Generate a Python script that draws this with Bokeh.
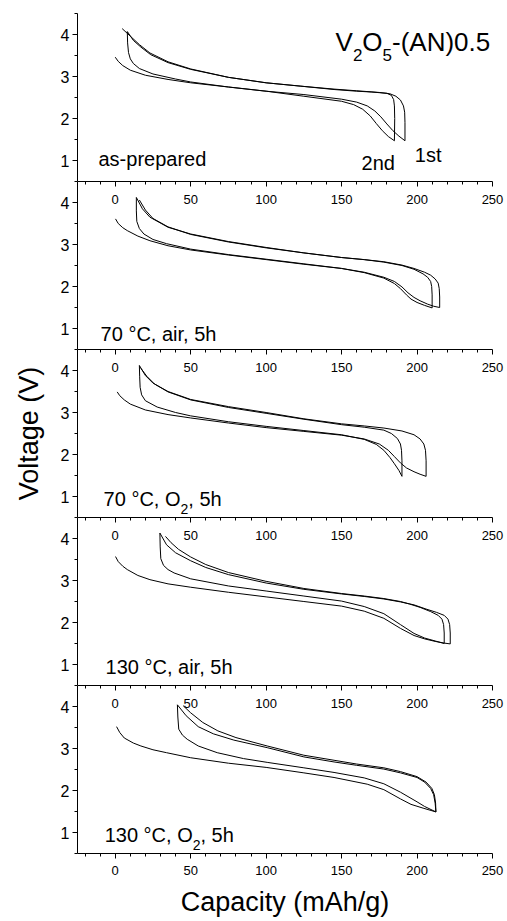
from bokeh.plotting import figure
from bokeh.models import LinearAxis, FixedTicker, Label, Range1d
from bokeh.layouts import column
from bokeh.embed import file_html
from bokeh.resources import INLINE

FONT = "Liberation Sans"

# ---------------- axes ----------------
X_TICKS = [0, 50, 100, 150, 200, 250]
X_MINOR = [-20, -10, 10, 20, 30, 40, 60, 70, 80, 90, 110, 120, 130, 140,
           160, 170, 180, 190, 210, 220, 230, 240]
Y_TICKS = [1, 2, 3, 4]
Y_MINOR = [0.5, 1.5, 2.5, 3.5, 4.5]
X_RANGE = (-25, 250)
Y_RANGE = (0.5, 4.5)
X_LABEL = "Capacity (mAh/g)"
Y_LABEL = "Voltage (V)"

# ---------------- data: (capacity mAh/g, voltage V) ----------------
# panel 1: as-prepared
P1_D1 = [(0, 3.46), (2, 3.36), (5, 3.26), (10, 3.15), (20, 3.03), (35, 2.93), (50, 2.85),
         (75, 2.75), (100, 2.65), (125, 2.57), (150, 2.46), (160, 2.39), (167, 2.3),
         (172, 2.18), (176, 2.04), (180, 1.87), (184, 1.71), (188, 1.58), (192, 1.47)]
P1_D2 = [(8, 4.07), (8.2, 3.8), (8.8, 3.57), (10, 3.42), (12, 3.31), (16, 3.19), (25, 3.06),
         (40, 2.94), (50, 2.87), (75, 2.75), (100, 2.65), (125, 2.53), (150, 2.41),
         (158, 2.33), (164, 2.22), (169, 2.06), (173, 1.88), (177, 1.71), (181, 1.57), (185, 1.47)]
P1_C1 = [(192, 1.47), (192, 1.9), (191.8, 2.15), (191, 2.3), (189, 2.44), (186, 2.53),
         (182, 2.59), (175, 2.62), (160, 2.66), (145, 2.7), (123, 2.77), (100, 2.85),
         (75, 2.98), (50, 3.17), (35, 3.33), (23.5, 3.52), (17, 3.7), (12, 3.86), (8, 4.07)]
P1_C2 = [(185, 1.47), (185.2, 2.0), (185, 2.3), (184.5, 2.45), (183, 2.55), (180, 2.6),
         (170, 2.63), (160, 2.65), (145, 2.69), (123, 2.77), (100, 2.85), (75, 2.98),
         (50, 3.18), (35, 3.35), (23, 3.56), (16, 3.76), (10, 3.96), (4.6, 4.14)]

# panel 2: 70 C, air, 5h
P2_D1 = [(0.2, 3.61), (2, 3.5), (5, 3.4), (8, 3.33), (15, 3.2), (23, 3.09), (35, 2.97),
         (50, 2.87), (75, 2.75), (100, 2.64), (125, 2.53), (150, 2.43), (165, 2.34),
         (178, 2.22), (185, 2.12), (190, 1.99), (194, 1.85), (198, 1.74), (202, 1.66),
         (207, 1.58), (211, 1.53), (215, 1.5)]
P2_D2 = [(14, 4.12), (14, 3.8), (14.3, 3.55), (16, 3.38), (19, 3.25), (25, 3.12), (34, 3.02),
         (50, 2.89), (75, 2.76), (100, 2.65), (125, 2.54), (150, 2.43), (165, 2.33),
         (178, 2.2), (185, 2.07), (189, 1.95), (193, 1.8), (196, 1.7), (200, 1.62),
         (205, 1.55), (210, 1.49)]
P2_C1 = [(215, 1.5), (215, 1.75), (214.7, 1.95), (214, 2.08), (212, 2.18), (209, 2.27),
         (205, 2.34), (198, 2.43), (190, 2.51), (178, 2.59), (165, 2.64), (150, 2.69),
         (125, 2.8), (100, 2.93), (75, 3.07), (50, 3.25), (35, 3.41), (23, 3.65),
         (18, 3.85), (14, 4.12)]
P2_C2 = [(210, 1.49), (210, 1.8), (209.7, 2.0), (209, 2.12), (207, 2.22), (204, 2.3),
         (198, 2.41), (190, 2.5), (178, 2.58), (165, 2.64), (150, 2.69), (125, 2.8),
         (100, 2.92), (75, 3.06), (50, 3.24), (35, 3.42), (25, 3.62), (20, 3.82), (16, 4.06)]

# panel 3: 70 C, O2, 5h
P3_D1 = [(1.3, 3.49), (3, 3.4), (6, 3.3), (10, 3.2), (20, 3.06), (35, 2.95), (50, 2.87),
         (75, 2.75), (100, 2.64), (125, 2.55), (150, 2.46), (165, 2.37), (175, 2.25),
         (181, 2.1), (185, 1.95), (189, 1.8), (193, 1.68), (198, 1.59), (202, 1.53), (206, 1.48)]
P3_D2 = [(16, 4.12), (16.2, 3.85), (16.5, 3.6), (17.5, 3.42), (20, 3.28), (27.8, 3.13),
         (40, 3.0), (50, 2.92), (75, 2.78), (100, 2.67), (125, 2.57), (150, 2.47),
         (165, 2.36), (173, 2.24), (178, 2.1), (182, 1.93), (185, 1.78), (188, 1.62), (190, 1.48)]
P3_C1 = [(206, 1.48), (206, 1.85), (205.6, 2.1), (204.5, 2.25), (202, 2.37), (198, 2.47),
         (190, 2.56), (178, 2.63), (165, 2.68), (150, 2.73), (125, 2.85), (100, 3.0),
         (75, 3.14), (50, 3.31), (35, 3.5), (25, 3.7), (20, 3.88), (16, 4.12)]
P3_C2 = [(190, 1.48), (190, 1.85), (189.7, 2.1), (189, 2.25), (187, 2.38), (183, 2.5),
         (178, 2.58), (165, 2.65), (150, 2.71), (125, 2.84), (100, 2.98), (75, 3.12),
         (50, 3.3), (35, 3.49), (26, 3.68), (21, 3.86), (17, 4.05)]

# panel 4: 130 C, air, 5h
P4_D1 = [(0.2, 3.57), (2, 3.45), (5, 3.34), (8, 3.26), (15, 3.12), (23, 3.02), (35, 2.92),
         (50, 2.84), (75, 2.72), (100, 2.61), (125, 2.5), (150, 2.39), (165, 2.27),
         (178, 2.1), (189, 1.86), (198, 1.69), (205, 1.61), (212, 1.55), (218, 1.51), (222, 1.49)]
P4_D2 = [(29.6, 4.13), (29.8, 3.8), (30.2, 3.52), (32, 3.36), (35, 3.26), (39, 3.18),
         (50, 3.04), (75, 2.87), (100, 2.75), (125, 2.63), (150, 2.51), (165, 2.38),
         (178, 2.21), (189, 1.95), (198, 1.74), (205, 1.63), (212, 1.56), (218, 1.5)]
P4_C1 = [(222, 1.49), (222, 1.75), (221.6, 1.95), (220.5, 2.08), (218, 2.17), (213, 2.24),
         (206, 2.32), (198, 2.42), (189, 2.49), (178, 2.56), (165, 2.62), (150, 2.68),
         (125, 2.79), (100, 2.94), (75, 3.14), (60, 3.31), (50, 3.47), (40, 3.66),
         (34, 3.85), (29.6, 4.13)]
P4_C2 = [(218, 1.5), (218, 1.75), (217.6, 1.95), (216.5, 2.08), (214, 2.17), (209, 2.26),
         (202, 2.36), (195, 2.44), (189, 2.5), (178, 2.57), (165, 2.63), (150, 2.69),
         (125, 2.81), (100, 2.98), (75, 3.19), (60, 3.38), (50, 3.56), (42, 3.74),
         (37, 3.9), (33.3, 4.05)]

# panel 5: 130 C, O2, 5h
P5_D1 = [(0.9, 3.52), (3, 3.38), (6, 3.25), (12, 3.13), (17, 3.06), (25, 2.97), (34, 2.9),
         (50, 2.78), (75, 2.65), (100, 2.55), (125, 2.42), (145, 2.31), (167, 2.15),
         (178, 2.02), (189, 1.8), (196, 1.67), (204, 1.58), (212.5, 1.49)]
P5_D2 = [(41.2, 4.04), (41.5, 3.75), (42.1, 3.46), (44.5, 3.32), (47.7, 3.22), (55, 3.06),
         (67.6, 2.9), (85, 2.76), (100.7, 2.67), (125, 2.54), (145, 2.43), (165, 2.3),
         (178, 2.16), (189, 1.96), (200, 1.73), (205, 1.62), (212.5, 1.49)]
P5_C1 = [(212.5, 1.49), (212, 1.7), (211, 1.9), (209, 2.05), (205, 2.2), (200, 2.31),
         (189, 2.42), (178, 2.51), (160, 2.6), (145, 2.68), (125, 2.8), (100.7, 3.02),
         (78.6, 3.2), (65, 3.35), (55, 3.52), (47, 3.78), (41.2, 4.04)]
P5_C2 = [(212.5, 1.49), (212.3, 1.7), (211.5, 1.9), (209.8, 2.05), (206, 2.2), (200, 2.33),
         (189, 2.45), (178, 2.54), (160, 2.63), (145, 2.72), (125, 2.84), (100.7, 3.06),
         (80, 3.26), (68, 3.42), (58, 3.62), (50, 3.85), (45, 4.02)]

CURVES = [
    [P1_D1, P1_C1, P1_D2, P1_C2],
    [P2_D1, P2_C1, P2_D2, P2_C2],
    [P3_D1, P3_C1, P3_D2, P3_C2],
    [P4_D1, P4_C1, P4_D2, P4_C2],
    [P5_D1, P5_C1, P5_D2, P5_C2],
]

# ---------------- texts: pieces (text, font px, baseline shift px) ----------------
TITLE = [("V", 26, 0), ("2", 17, -13), ("O", 26, 0), ("5", 17, -13), ("-(AN)0.5", 26, 0)]
TEXTS = [
    [((146, 3.817), TITLE),
     ((-11.1, 1.04), [("as-prepared", 20, 0)]),
     ((163.2, 0.936), [("2nd", 20, 0)]),
     ((198.5, 1.136), [("1st", 20, 0)])],
    [((-9.7, 0.874), [("70 \u00b0C, air, 5h", 20, 0)])],
    [((-7.7, 0.945), [("70 \u00b0C, O", 20, 0), ("2", 14, -10), (", 5h", 20, 0)])],
    [((-6.4, 0.95), [("130 \u00b0C, air, 5h", 20, 0)])],
    [((-7.0, 0.93), [("130 \u00b0C, O", 20, 0), ("2", 14, -10), (", 5h", 20, 0)])],
]

# Arial / Liberation Sans advance widths (1/1000 em)
ADV = {' ': 278, '(': 333, ')': 333, ',': 278, '-': 333, '.': 278, '\u00b0': 400,
       'A': 667, 'C': 722, 'N': 722, 'O': 778, 'V': 667, 'a': 556, 'd': 556,
       'e': 556, 'h': 556, 'i': 222, 'n': 556, 'p': 556, 'r': 333, 's': 500, 't': 278}


def text_width(s, size):
    return sum(ADV.get(c, 556) for c in s) * size / 1000.0


# ---------------- layout ----------------
W = 507
LEFT, RIGHT = 77, 15
FRAME_H = 168
TOP1 = 13
BOTTOM5 = 68
PX_X = (W - LEFT - RIGHT) / (X_RANGE[1] - X_RANGE[0])
PX_Y = FRAME_H / (Y_RANGE[1] - Y_RANGE[0])


def style_axis(ax, font_size):
    ax.axis_line_color = "black"
    ax.axis_line_width = 1
    ax.major_tick_line_color = "black"
    ax.minor_tick_line_color = "black"
    ax.major_label_text_color = "black"
    ax.major_label_text_font = FONT
    ax.major_label_text_font_size = font_size


def make_fig(i):
    n = len(CURVES)
    top = TOP1 if i == 0 else 0
    bottom = BOTTOM5 if i == n - 1 else 0
    p = figure(width=W, height=FRAME_H + top + bottom,
               x_range=Range1d(*X_RANGE), y_range=Range1d(*Y_RANGE),
               x_axis_location=None, y_axis_location=None,
               toolbar_location=None, output_backend="svg",
               min_border_left=LEFT, min_border_right=RIGHT,
               min_border_top=top, min_border_bottom=bottom)
    p.outline_line_color = None
    p.grid.grid_line_color = None
    p.background_fill_color = "white"
    p.border_fill_color = "white"

    # y axis
    ya = LinearAxis(ticker=FixedTicker(ticks=Y_TICKS, minor_ticks=Y_MINOR))
    style_axis(ya, "16px")
    ya.major_tick_out, ya.major_tick_in = 5, 0
    ya.minor_tick_out, ya.minor_tick_in = 3, 0
    ya.major_label_standoff = 3
    if i == 2:
        ya.axis_label = Y_LABEL
        ya.axis_label_text_font = FONT
        ya.axis_label_text_font_size = "27px"
        ya.axis_label_text_font_style = "normal"
        ya.axis_label_text_color = "black"
        ya.axis_label_standoff = 14
    p.add_layout(ya, "left")

    # x axis shared with the panel above (ticks and labels point into this panel)
    if i > 0:
        xa = LinearAxis(ticker=FixedTicker(ticks=X_TICKS, minor_ticks=X_MINOR))
        style_axis(xa, "13px")
        xa.major_tick_out, xa.major_tick_in = 0, 5
        xa.minor_tick_out, xa.minor_tick_in = 0, 3
        xa.major_label_standoff = -22
        p.add_layout(xa, "above")

    if i == n - 1:
        xb = LinearAxis(ticker=FixedTicker(ticks=X_TICKS, minor_ticks=X_MINOR))
        style_axis(xb, "13px")
        xb.major_tick_out, xb.major_tick_in = 5, 0
        xb.minor_tick_out, xb.minor_tick_in = 3, 0
        xb.major_label_standoff = 7
        xb.axis_label = X_LABEL
        xb.axis_label_text_font = FONT
        xb.axis_label_text_font_size = "27px"
        xb.axis_label_text_font_style = "normal"
        xb.axis_label_text_color = "black"
        xb.axis_label_standoff = 9
        p.add_layout(xb, "below")

    for curve in CURVES[i]:
        xs = [c for c, v in curve]
        ys = [v for c, v in curve]
        p.line(xs, ys, line_color="black", line_width=1)

    for (x0, y0), pieces in TEXTS[i]:
        cx = 0.0
        for txt, size, dy in pieces:
            p.add_layout(Label(x=x0 + cx / PX_X, y=y0 + dy / PX_Y, text=txt,
                               text_font=FONT, text_font_size=f"{size}px",
                               text_baseline="alphabetic", text_align="left",
                               text_color="black"))
            cx += text_width(txt, size)
    return p


figs = [make_fig(i) for i in range(len(CURVES))]
layout = column(*figs, spacing=0)

open("out.html", "w").write(file_html(layout, INLINE))
